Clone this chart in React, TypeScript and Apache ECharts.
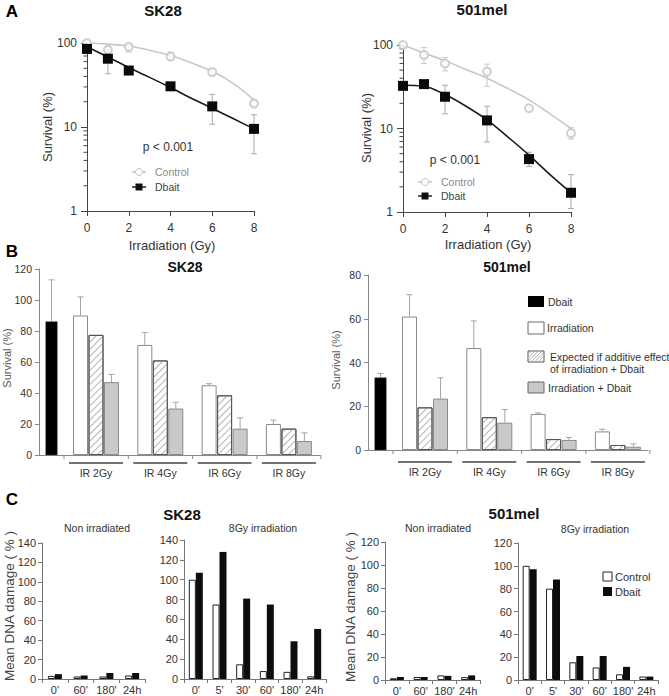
import React, { useEffect, useRef } from "react";
import * as echarts from "echarts";

const FONT = "'Liberation Sans', Arial, Helvetica, sans-serif";
const TXT = "#333";

// ---------------- Panel A : clonogenic survival (log scale) ----------------
const doses = [0, 1, 2, 4, 6, 8];
const fitDoses = [0, 1, 2, 3, 4, 5, 6, 7, 8];
const logMinorTicks = [2, 3, 4, 5, 6, 7, 8, 9, 20, 30, 40, 50, 60, 70, 80, 90];

const sk28Control = [100, 83, 90, 69, 45, 19];
const sk28ControlLow = [null, 76, 78, 62, 42, 18];
const sk28ControlHigh = [null, 91, 97, 78, 48, 21];
const sk28Dbait = [85, 65, 47, 30.5, 17.6, 9.5];
const sk28DbaitLow = [null, 43, null, 28, 10.8, 4.8];
const sk28DbaitHigh = [null, 84, null, 33, 24.5, 14];
const sk28ControlFit = [100, 97, 92, 82, 71, 58, 46, 33, 21];
const sk28DbaitFit = [90, 68, 51, 39, 29.5, 22, 16.7, 12.6, 9.5];

const melControl = [100, 76, 60, 48, 17.5, 8.8];
const melControlLow = [null, 60, 49, 32, 16.5, 7.5];
const melControlHigh = [null, 93, 71, 59, 18.5, 10.2];
const melDbait = [32.4, 34, 24, 12.5, 4.3, 1.7];
const melDbaitLow = [null, 32, 15, 6.9, 3.5, 1.1];
const melDbaitHigh = [null, 37, 33, 18.5, 5.2, 2.8];
const melControlFit = [100, 80, 65, 51, 40, 30, 22, 15, 10];
const melDbaitFit = [33, 32, 25.5, 18.5, 12.7, 7.9, 4.8, 2.8, 1.7];

// ---------------- Panel B : survival bars ----------------
const irGroups = ["IR 2Gy", "IR 4Gy", "IR 6Gy", "IR 8Gy"];
const sk28DbaitAlone = 86;
const sk28DbaitAloneErr = 113;
const sk28Irr = [90, 71, 45, 20];
const sk28IrrErr = [102, 79, 46, 22.5];
const sk28Expected = [77.5, 61, 38.5, 17];
const sk28Combined = [47, 30, 17, 9];
const sk28CombinedErr = [52, 34, 24, 14.3];

const melDbaitAlone = 33;
const melDbaitAloneErr = 35;
const melIrr = [61, 46.6, 16.5, 8.5];
const melIrrErr = [71, 59, 17, 9.5];
const melExpected = [19.5, 15, 5, 2.3];
const melCombined = [23.5, 12.5, 4.6, 1.5];
const melCombinedErr = [33, 18.5, 5.7, 2.8];

// ---------------- Panel C : mean DNA damage ----------------
const nonIrrTimes = ["0'", "60'", "180'", "24h"];
const irrTimes = ["0'", "5'", "30'", "60'", "180'", "24h"];
const sk28NonIrrControl = [3.2, 2.6, 2.6, 3.6];
const sk28NonIrrDbait = [5, 3.6, 6.2, 6.2];
const sk28IrrControl = [100, 75, 14.8, 8, 7.2, 2.7];
const sk28IrrDbait = [107, 128, 81, 75, 38, 50.4];
const melNonIrrControl = [1.5, 2.6, 4, 2.5];
const melNonIrrDbait = [2.6, 2.6, 3.6, 4];
const melIrrControl = [100, 80, 15.5, 11, 5, 3];
const melIrrDbait = [97, 88, 21, 21, 11.5, 3];

// ---------------- layout constants (pixels / axis units) ----------------
const B_DBAIT_X = 12.5;
const B_DBAIT_W = 11.5;
const B_GROUP0 = 41.5;
const B_GROUP_STEP = 64.3;
const B_BAR_STEP = 15.5;
const B_BAR_W = 15;
const B_SEP_HALF = 32;
const B_LINE_HALF = 27;

type Num = number | null;

function txt(text: string, x: number, y: number, size: number, opts: any = {}) {
  return {
    type: "text",
    x,
    y,
    rotation: opts.rotation || 0,
    silent: true,
    style: {
      text,
      fill: opts.color || TXT,
      fontSize: size,
      fontWeight: opts.bold ? "bold" : "normal",
      fontFamily: FONT,
      align: opts.align || "center",
      verticalAlign: "middle",
    },
  };
}

function rangeSeries(idx: number, xs: number[], lows: Num[], highs: Num[], color: string, lowCap = true, cap = 3) {
  const data: number[][] = [];
  xs.forEach((x, i) => {
    const lo = lows[i];
    const hi = highs[i];
    if (lo != null && hi != null) data.push([x, lo, hi]);
  });
  return {
    type: "custom",
    xAxisIndex: idx,
    yAxisIndex: idx,
    silent: true,
    z: 1,
    data,
    renderItem: (_p: any, api: any) => {
      const x = api.value(0);
      const a = api.coord([x, api.value(1)]);
      const b = api.coord([x, api.value(2)]);
      const st = { stroke: color, lineWidth: 1 };
      const children: any[] = [
        { type: "line", shape: { x1: a[0], y1: a[1], x2: b[0], y2: b[1] }, style: st },
        { type: "line", shape: { x1: b[0] - cap, y1: b[1], x2: b[0] + cap, y2: b[1] }, style: st },
      ];
      if (lowCap) children.push({ type: "line", shape: { x1: a[0] - cap, y1: a[1], x2: a[0] + cap, y2: a[1] }, style: st });
      return { type: "group", children };
    },
  };
}

function minorTickSeries(idx: number) {
  return {
    type: "custom",
    xAxisIndex: idx,
    yAxisIndex: idx,
    silent: true,
    data: logMinorTicks.map((v) => [0, v]),
    renderItem: (_p: any, api: any) => {
      const pt = api.coord([0, api.value(1)]);
      return { type: "line", shape: { x1: pt[0] - 3.5, y1: pt[1], x2: pt[0], y2: pt[1] }, style: { stroke: "#444", lineWidth: 1 } };
    },
  };
}

function survivalSeries(idx: number, ctl: number[], ctlLo: Num[], ctlHi: Num[], db: number[], dbLo: Num[], dbHi: Num[], ctlFit: number[], dbFit: number[]) {
  return [
    minorTickSeries(idx),
    rangeSeries(idx, doses, ctlLo, ctlHi, "#c8c8c8"),
    rangeSeries(idx, doses, dbLo, dbHi, "#a8a8a8"),
    {
      type: "line", xAxisIndex: idx, yAxisIndex: idx, smooth: 0.35, symbol: "none", z: 2,
      lineStyle: { color: "#c8c8c8", width: 1.6 },
      data: fitDoses.map((d, i) => [d, ctlFit[i]]),
    },
    {
      type: "line", xAxisIndex: idx, yAxisIndex: idx, smooth: 0.35, symbol: "none", z: 2,
      lineStyle: { color: "#1a1a1a", width: 1.6 },
      data: fitDoses.map((d, i) => [d, dbFit[i]]),
    },
    {
      type: "scatter", xAxisIndex: idx, yAxisIndex: idx, z: 3, symbol: "emptyCircle", symbolSize: 8,
      itemStyle: { color: "#c4c4c4", borderWidth: 1 },
      data: doses.map((d, i) => [d, ctl[i]]),
    },
    {
      type: "scatter", xAxisIndex: idx, yAxisIndex: idx, z: 4, symbol: "rect", symbolSize: 10,
      itemStyle: { color: "#0a0a0a", opacity: 1 },
      data: doses.map((d, i) => [d, db[i]]),
    },
  ];
}

const IRR_STYLE = { color: "#ffffff", borderColor: "#8a8a8a", borderWidth: 1 };
const EXP_STYLE = {
  color: "#ffffff",
  borderColor: "#555",
  borderWidth: 1,
  decal: {
    symbol: "rect",
    symbolSize: 1,
    dashArrayX: [1, 0],
    dashArrayY: [1, 4],
    rotation: -Math.PI / 4,
    color: "#b4b4b4",
    backgroundColor: "#ffffff",
  },
};
const COMB_STYLE = { color: "#c9c9c9", borderColor: "#8a8a8a", borderWidth: 1 };

function bGroupStart(g: number) {
  return B_GROUP0 + g * B_GROUP_STEP;
}

function barSurvivalSeries(idx: number, dbAlone: number, dbAloneErr: number, irr: number[], irrErr: number[], exp: number[], comb: number[], combErr: number[], lineDy: number, textDy: number) {
  const items: any[] = [];
  const errX: number[] = [];
  const errLo: number[] = [];
  const errHi: number[] = [];
  irr.forEach((v, g) => {
    const s = bGroupStart(g);
    items.push({ value: [s, v], itemStyle: IRR_STYLE });
    items.push({ value: [s + B_BAR_STEP, exp[g]], itemStyle: EXP_STYLE });
    items.push({ value: [s + 2 * B_BAR_STEP, comb[g]], itemStyle: COMB_STYLE });
    errX.push(s, s + 2 * B_BAR_STEP);
    errLo.push(v, comb[g]);
    errHi.push(irrErr[g], combErr[g]);
  });
  errX.push(B_DBAIT_X);
  errLo.push(dbAlone);
  errHi.push(dbAloneErr);
  return [
    {
      type: "bar", xAxisIndex: idx, yAxisIndex: idx, barWidth: B_BAR_W, data: items, z: 2,
    },
    {
      type: "custom", xAxisIndex: idx, yAxisIndex: idx, silent: true, z: 2,
      data: [[B_DBAIT_X, dbAlone]],
      renderItem: (_p: any, api: any) => {
        const top = api.coord([api.value(0), api.value(1)]);
        const base = api.coord([api.value(0), 0]);
        const w = api.size([B_DBAIT_W, 0])[0];
        return { type: "rect", shape: { x: top[0] - w / 2, y: top[1], width: w, height: base[1] - top[1] }, style: { fill: "#000", stroke: "#444", lineWidth: 0.5 } };
      },
    },
    rangeSeries(idx, errX, errLo, errHi, "#a5a5a5", false),
    {
      type: "custom", xAxisIndex: idx, yAxisIndex: idx, silent: true, z: 3,
      data: irGroups.map((_n, g) => [bGroupStart(g) + B_BAR_STEP, 0]),
      renderItem: (p: any, api: any) => {
        const c = api.value(0);
        const [cx, y0] = api.coord([c, 0]);
        const lx = api.coord([c - B_SEP_HALF, 0])[0];
        const rx = api.coord([c + B_SEP_HALF, 0])[0];
        const ulx = api.coord([c - B_LINE_HALF, 0])[0];
        const urx = api.coord([c + B_LINE_HALF, 0])[0];
        const tick = { stroke: "#888", lineWidth: 1 };
        const children: any[] = [
          { type: "line", shape: { x1: lx, y1: y0, x2: lx, y2: y0 + 4 }, style: tick },
          { type: "line", shape: { x1: ulx, y1: y0 + lineDy, x2: urx, y2: y0 + lineDy }, style: { stroke: "#444", lineWidth: 1.5 } },
          {
            type: "text", x: cx, y: y0 + textDy,
            style: { text: irGroups[p.dataIndex], fill: TXT, fontSize: 10.5, fontFamily: FONT, align: "center", verticalAlign: "middle" },
          },
        ];
        if (p.dataIndex === irGroups.length - 1) children.push({ type: "line", shape: { x1: rx, y1: y0, x2: rx, y2: y0 + 4 }, style: tick });
        return { type: "group", children };
      },
    },
  ];
}

function damageSeries(idx: number, ctl: number[], db: number[]) {
  return [
    { type: "bar", xAxisIndex: idx, yAxisIndex: idx, data: ctl, barWidth: 7, barGap: "0%", itemStyle: { color: "#fff", borderColor: "#222", borderWidth: 1 } },
    { type: "bar", xAxisIndex: idx, yAxisIndex: idx, data: db, barWidth: 7, barGap: "0%", itemStyle: { color: "#0d0d0d" } },
  ];
}

function hatchBox(x0: number, y0: number, w: number, h: number, step: number) {
  const els: any[] = [{ type: "rect", shape: { x: x0, y: y0, width: w, height: h }, style: { fill: "#fff", stroke: "#555", lineWidth: 1 }, z: 10 }];
  for (let k = -h; k < w; k += step) {
    let sx = x0 + k, sy = y0 + h, ex = x0 + k + h, ey = y0;
    if (sx < x0) { const t = x0 - sx; sx = x0; sy = y0 + h - t; }
    if (ex > x0 + w) { const t = ex - (x0 + w); ex = x0 + w; ey = y0 + t; }
    els.push({ type: "line", shape: { x1: sx, y1: sy, x2: ex, y2: ey }, style: { stroke: "#b0b0b0", lineWidth: 1 }, z: 11 });
  }
  return els;
}

export default function App() {
  const ref = useRef<HTMLDivElement>(null);
  useEffect(() => {
    document.body.style.margin = "0";
    if (!ref.current) return;
    const chart = echarts.init(ref.current, undefined, { renderer: "svg" });

    const grids = [
      { left: 87, top: 43, width: 167, height: 168 },
      { left: 403, top: 45, width: 168, height: 167 },
      { left: 39, top: 269, width: 281, height: 186 },
      { left: 368, top: 275, width: 280, height: 175 },
      { left: 42, top: 543, width: 103, height: 136 },
      { left: 184, top: 540, width: 142, height: 139 },
      { left: 385, top: 542, width: 95, height: 138 },
      { left: 518, top: 543, width: 140, height: 137 },
    ].map((g) => ({ ...g, containLabel: false, outerBoundsMode: "none" }));

    const lab = (size: number, margin: number) => ({ color: TXT, fontSize: size, fontFamily: FONT, margin });

    const aX = (gi: number) => ({
      gridIndex: gi, type: "value", min: 0, max: 8, interval: 2,
      axisLine: { show: true, lineStyle: { color: "#444" } },
      axisTick: { show: true, length: 5, lineStyle: { color: "#444" } },
      axisLabel: lab(12, 11),
      splitLine: { show: false },
    });
    const aY = (gi: number) => ({
      gridIndex: gi, type: "log", logBase: 10, min: 1, max: 100,
      axisLine: { show: true, lineStyle: { color: "#444" } },
      axisTick: { show: true, length: 6, lineStyle: { color: "#444" } },
      axisLabel: lab(12, 10),
      splitLine: { show: false },
      minorTick: { show: false },
    });
    const bX = (gi: number, max: number) => ({
      gridIndex: gi, type: "value", min: 0, max,
      axisLine: { show: true, lineStyle: { color: "#888" } },
      axisTick: { show: false }, axisLabel: { show: false }, splitLine: { show: false },
    });
    const bY = (gi: number, max: number) => ({
      gridIndex: gi, type: "value", min: 0, max, interval: 20,
      axisLine: { show: true, lineStyle: { color: "#888" } },
      axisTick: { show: true, length: 4, lineStyle: { color: "#888" } },
      axisLabel: lab(10.5, 7), splitLine: { show: false },
    });
    const cX = (gi: number, cats: string[]) => ({
      gridIndex: gi, type: "category", data: cats,
      axisLine: { show: true, lineStyle: { color: "#777" } },
      axisTick: { show: true, length: 4, lineStyle: { color: "#777" }, alignWithLabel: false },
      axisLabel: { ...lab(11, 5), interval: 0 }, splitLine: { show: false },
    });
    const cY = (gi: number, max: number) => ({
      gridIndex: gi, type: "value", min: 0, max, interval: 20,
      axisLine: { show: true, lineStyle: { color: "#777" } },
      axisTick: { show: true, length: 4, lineStyle: { color: "#777" } },
      axisLabel: lab(11, 6), splitLine: { show: false },
    });

    const graphics: any[] = [
      // panel letters
      txt("A", 12, 11, 17, { bold: true, color: "#000" }),
      txt("B", 12, 251, 17, { bold: true, color: "#000" }),
      txt("C", 12, 499, 17, { bold: true, color: "#000" }),
      // panel A
      txt("SK28", 163, 10, 15, { bold: true, color: "#111" }),
      txt("501mel", 482, 9, 15, { bold: true, color: "#111" }),
      txt("Survival (%)", 47, 127, 13, { rotation: Math.PI / 2 }),
      txt("Survival (%)", 366, 128, 13, { rotation: Math.PI / 2 }),
      txt("Irradiation (Gy)", 172, 245, 13),
      txt("Irradiation (Gy)", 488, 244, 13),
      txt("p < 0.001", 168, 147, 12),
      txt("p < 0.001", 455, 160, 12),
      { type: "line", shape: { x1: 132, y1: 172, x2: 146, y2: 172 }, style: { stroke: "#c4c4c4", lineWidth: 1.5 } },
      { type: "circle", shape: { cx: 139, cy: 172, r: 3.5 }, style: { fill: "#fff", stroke: "#c4c4c4", lineWidth: 1 } },
      txt("Control", 155, 172, 10.5, { align: "left", color: "#888" }),
      { type: "line", shape: { x1: 132, y1: 187, x2: 146, y2: 187 }, style: { stroke: "#222", lineWidth: 1.5 } },
      { type: "rect", shape: { x: 135.5, y: 183.5, width: 7, height: 7 }, style: { fill: "#111" } },
      txt("Dbait", 155, 187, 10.5, { align: "left", color: "#444" }),
      { type: "line", shape: { x1: 418, y1: 182, x2: 432, y2: 182 }, style: { stroke: "#c4c4c4", lineWidth: 1.5 } },
      { type: "circle", shape: { cx: 425, cy: 182, r: 3.5 }, style: { fill: "#fff", stroke: "#c4c4c4", lineWidth: 1 } },
      txt("Control", 441, 182, 10.5, { align: "left", color: "#888" }),
      { type: "line", shape: { x1: 418, y1: 196, x2: 432, y2: 196 }, style: { stroke: "#222", lineWidth: 1.5 } },
      { type: "rect", shape: { x: 421.5, y: 192.5, width: 7, height: 7 }, style: { fill: "#111" } },
      txt("Dbait", 441, 196, 10.5, { align: "left", color: "#444" }),
      // panel B
      txt("SK28", 185, 267, 14, { bold: true, color: "#111" }),
      txt("501mel", 507, 267, 14, { bold: true, color: "#111" }),
      txt("Survival (%)", 7, 358, 11, { rotation: Math.PI / 2, color: "#555" }),
      txt("Survival (%)", 336, 360, 11, { rotation: Math.PI / 2, color: "#555" }),
      { type: "rect", shape: { x: 528, y: 296, width: 16, height: 11 }, style: { fill: "#000" } },
      txt("Dbait", 548, 302, 10.5, { align: "left" }),
      { type: "rect", shape: { x: 528, y: 322, width: 16, height: 12 }, style: { fill: "#fff", stroke: "#666", lineWidth: 1 } },
      txt("Irradiation", 547, 328, 10.5, { align: "left" }),
      ...hatchBox(528, 351, 16, 11, 3.5),
      txt("Expected if additive effect", 550, 357, 10.5, { align: "left" }),
      txt("of irradiation + Dbait", 550, 369, 10.5, { align: "left" }),
      { type: "rect", shape: { x: 528, y: 382, width: 16, height: 11 }, style: { fill: "#c9c9c9", stroke: "#666", lineWidth: 1 } },
      txt("Irradiation + Dbait", 548, 388, 10.5, { align: "left" }),
      // panel C
      txt("SK28", 182, 514, 15, { bold: true, color: "#111" }),
      txt("501mel", 514, 513, 15, { bold: true, color: "#111" }),
      txt("Non irradiated", 97, 528, 10.5),
      txt("8Gy irradiation", 263, 528, 10.5),
      txt("Non irradiated", 438, 528, 10.5),
      txt("8Gy irradiation", 595, 529, 10.5),
      txt("Mean DNA damage ( % )", 9, 606, 13.5, { rotation: Math.PI / 2, color: "#444" }),
      txt("Mean DNA damage ( % )", 350, 607, 13.5, { rotation: Math.PI / 2, color: "#444" }),
      { type: "rect", shape: { x: 603, y: 572, width: 9, height: 9 }, style: { fill: "#fff", stroke: "#222", lineWidth: 1 } },
      txt("Control", 615, 576.5, 11, { align: "left" }),
      { type: "rect", shape: { x: 603, y: 587, width: 9, height: 9 }, style: { fill: "#0d0d0d" } },
      txt("Dbait", 615, 592, 11, { align: "left" }),
    ];

    const option: any = {
      animation: false,
      backgroundColor: "#ffffff",
      textStyle: { fontFamily: FONT },
      grid: grids,
      xAxis: [aX(0), aX(1), bX(2, 281), bX(3, 280), cX(4, nonIrrTimes), cX(5, irrTimes), cX(6, nonIrrTimes), cX(7, irrTimes)],
      yAxis: [aY(0), aY(1), bY(2, 120), bY(3, 80), cY(4, 140), cY(5, 140), cY(6, 120), cY(7, 120)],
      series: [
        ...survivalSeries(0, sk28Control, sk28ControlLow, sk28ControlHigh, sk28Dbait, sk28DbaitLow, sk28DbaitHigh, sk28ControlFit, sk28DbaitFit),
        ...survivalSeries(1, melControl, melControlLow, melControlHigh, melDbait, melDbaitLow, melDbaitHigh, melControlFit, melDbaitFit),
        ...barSurvivalSeries(2, sk28DbaitAlone, sk28DbaitAloneErr, sk28Irr, sk28IrrErr, sk28Expected, sk28Combined, sk28CombinedErr, 8, 18),
        ...barSurvivalSeries(3, melDbaitAlone, melDbaitAloneErr, melIrr, melIrrErr, melExpected, melCombined, melCombinedErr, 12, 22),
        ...damageSeries(4, sk28NonIrrControl, sk28NonIrrDbait),
        ...damageSeries(5, sk28IrrControl, sk28IrrDbait),
        ...damageSeries(6, melNonIrrControl, melNonIrrDbait),
        ...damageSeries(7, melIrrControl, melIrrDbait),
      ],
      graphic: { elements: graphics },
    };
    chart.setOption(option);
    return () => chart.dispose();
  }, []);
  return <div ref={ref} style={{ width: 669, height: 696 }} />;
}
